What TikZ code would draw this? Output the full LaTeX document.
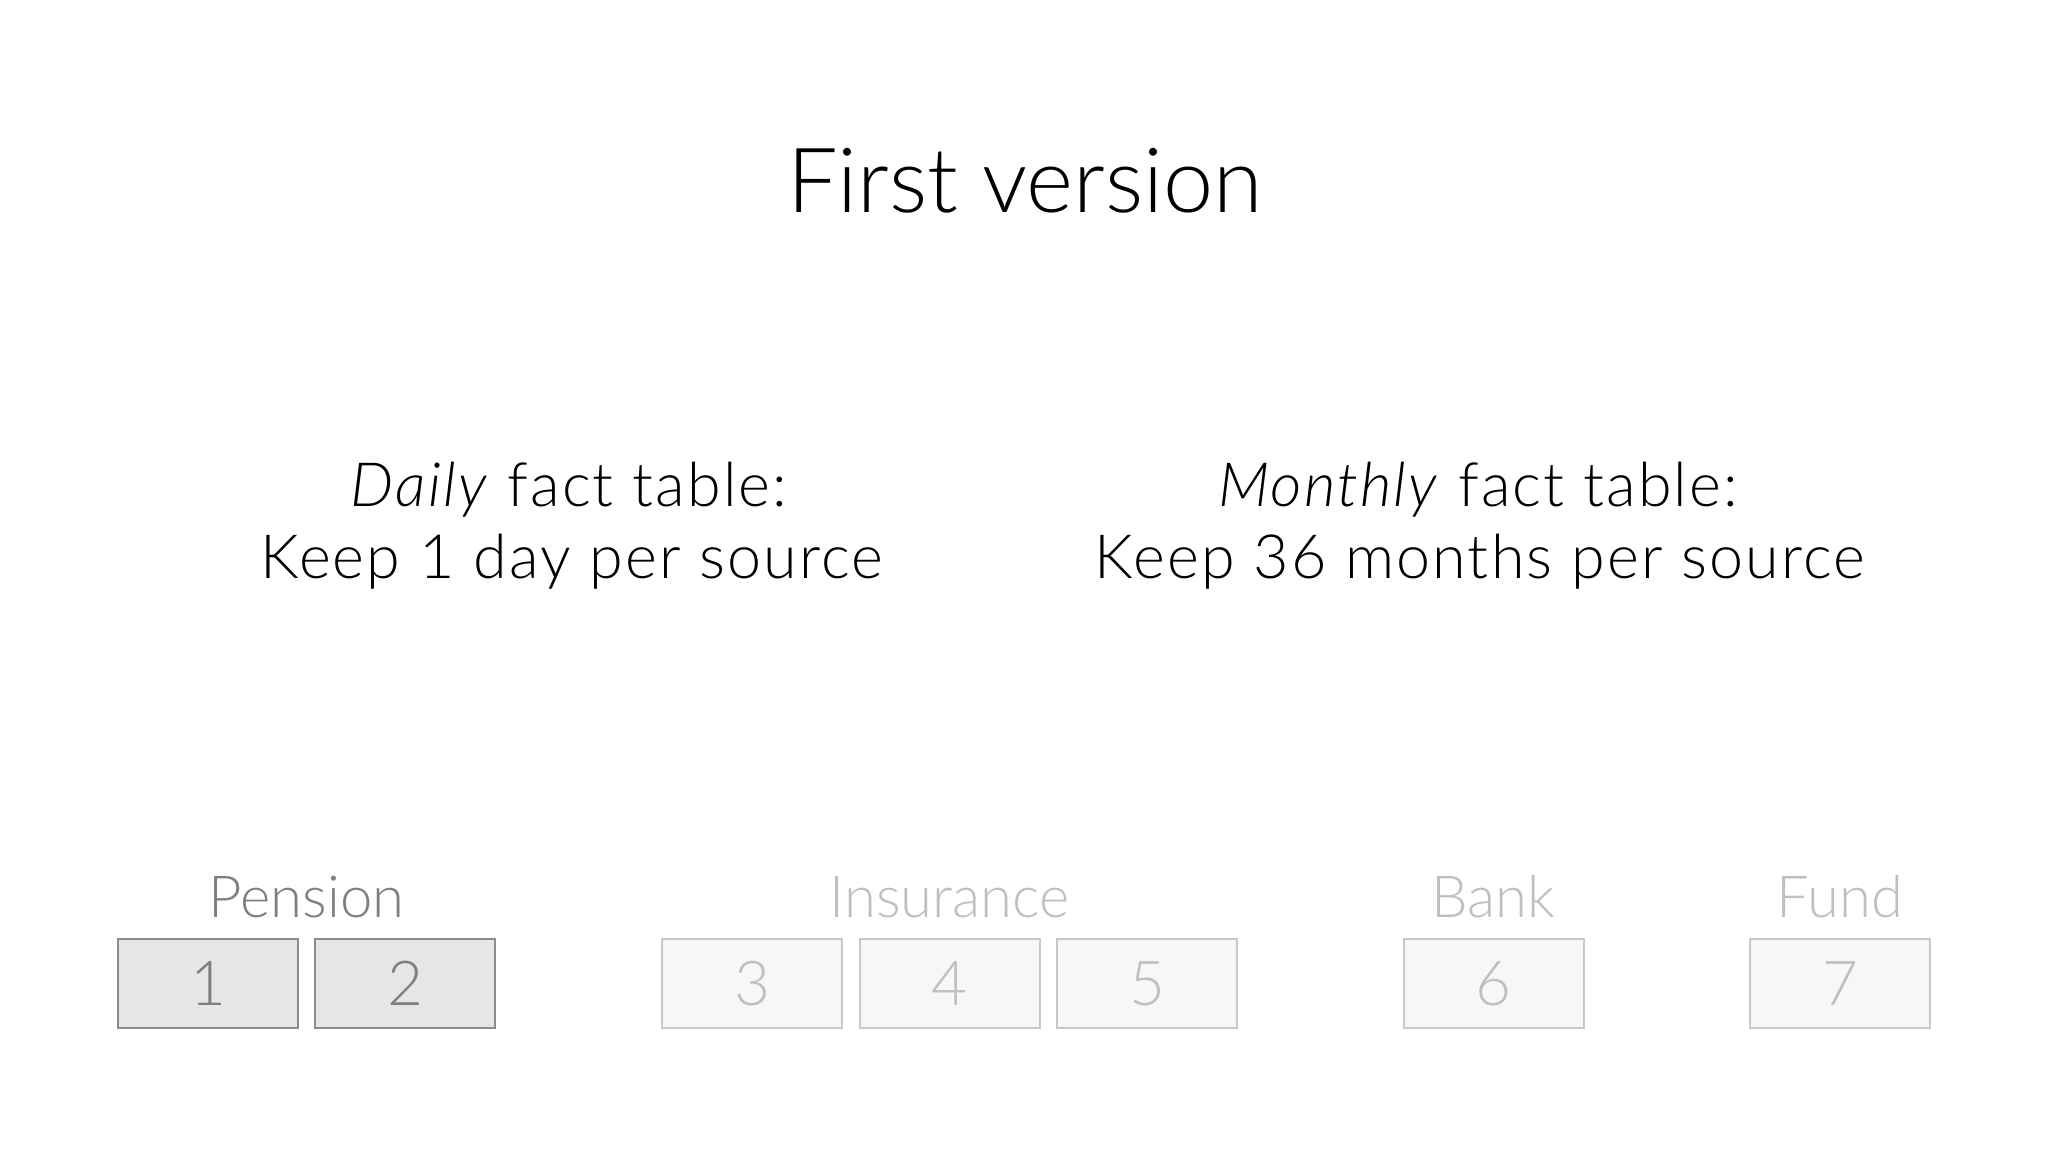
\documentclass[tikz,border=0pt]{standalone}
\usepackage{fontspec}
\setmainfont{Lato}[UprightFont=* Light, ItalicFont=* Light Italic]
\newfontfamily\factfont{Lato}[UprightFont=* Light, ItalicFont=* Light Italic, LetterSpace=3.5]
\usepackage{tikz}

\begin{document}
\begin{tikzpicture}[x=0.5pt,y=0.5pt,yscale=-1,xscale=1,
  srcon/.style={draw={rgb, 255:red, 140; green, 140; blue, 140 }, fill={rgb, 255:red, 230; green, 230; blue, 230 }, text={rgb, 255:red, 127; green, 127; blue, 127 }, line width=1pt, minimum width=90pt, minimum height=44.5pt, inner sep=0pt, font=\fontsize{31}{36}\selectfont},
  srcoff/.style={srcon, draw={rgb, 255:red, 200; green, 200; blue, 200 }, fill={rgb, 255:red, 247; green, 247; blue, 247 }, text={rgb, 255:red, 191; green, 191; blue, 191 }},
  grplbl/.style={anchor=base, inner sep=0.75pt, font=\fontsize{29}{34}\selectfont},
  facttxt/.style={anchor=base, inner sep=0.75pt, font=\factfont\fontsize{30.5}{36}\selectfont}]
\useasboundingbox (0,0) rectangle (2048,1152);

% Text Node
\draw (1025,212) node [anchor=base][inner sep=0.75pt] [font=\fontsize{45}{54}\selectfont] (title) {First version};

% Text Node
\draw (569,506) node [facttxt] (dailyhd) {\textit{Daily} fact table:};
% Text Node
\draw (572,578) node [facttxt] (dailytx) {Keep 1 day per source};
% Text Node
\draw (1478,506) node [facttxt] (monthhd) {\textit{Monthly} fact table:};
% Text Node
\draw (1480,578) node [facttxt] (monthtx) {Keep 36 months per source};

%Shape: Rectangle
\draw (208,983.5) node [srcon] (b1) {1};
%Shape: Rectangle
\draw (405,983.5) node [srcon] (b2) {2};
%Shape: Rectangle
\draw (752,983.5) node [srcoff] (b3) {3};
%Shape: Rectangle
\draw (949.5,983.5) node [srcoff] (b4) {4};
%Shape: Rectangle
\draw (1147,983.5) node [srcoff] (b5) {5};
%Shape: Rectangle
\draw (1493.5,983.5) node [srcoff] (b6) {6};
%Shape: Rectangle
\draw (1840,983.5) node [srcoff] (b7) {7};

% Text Node
\draw (306.5,917) node [grplbl] [color={rgb, 255:red, 127; green, 127; blue, 127 }] (pension) {Pension};
% Text Node
\draw (949.5,917) node [grplbl] [color={rgb, 255:red, 191; green, 191; blue, 191 }] (insur) {Insurance};
% Text Node
\draw (1493.5,917) node [grplbl] [color={rgb, 255:red, 191; green, 191; blue, 191 }] (bank) {Bank};
% Text Node
\draw (1840,917) node [grplbl] [color={rgb, 255:red, 191; green, 191; blue, 191 }] (fund) {Fund};

\end{tikzpicture}
\end{document}
